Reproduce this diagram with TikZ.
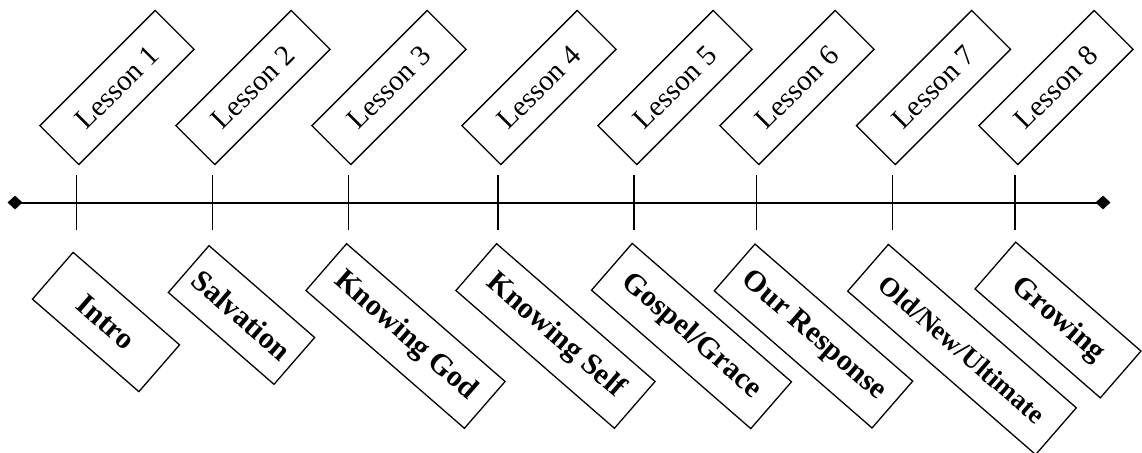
\documentclass[tikz,border=0pt]{standalone}
\usepackage{fontspec}
\setmainfont{Liberation Serif}
\usetikzlibrary{shapes.geometric}
\begin{document}
\begin{tikzpicture}[x=1pt,y=-1pt,
  lesson/.style={draw, line width=1.3pt, rotate=45, minimum width=163pt, minimum height=55pt, inner sep=0pt, font=\fontsize{29}{29}\selectfont},
  topic/.style={draw, line width=1.3pt, rotate=-41, minimum height=62pt, inner sep=0pt, font=\fontsize{30}{30}\selectfont\bfseries},
  tickline/.style={line width=1.3pt},
  axis/.style={line width=2pt},
  endmark/.style={diamond, fill=black, draw=none, inner sep=0pt, minimum width=15pt, minimum height=14pt}]
\useasboundingbox (0,0) rectangle (1142,452);
% axis
\node[endmark] (endL) at (15,202.5) {};
\node[endmark] (endR) at (1103,202.5) {};
\draw[axis] (endL.center) -- (endR.center);
% ticks
\foreach \x [count=\i] in {76.7,212.3,348.7,498,634,756.7,892.7,1015}{
  \coordinate (t\i a) at (\x,175);
  \coordinate (t\i b) at (\x,230);
  \draw[tickline] (t\i a) -- (t\i b);
}
% top lesson boxes
\node[lesson] (l1) at (117,87.5) {Lesson 1};
\node[lesson] (l2) at (253,87.5) {Lesson 2};
\node[lesson] (l3) at (389,87.5) {Lesson 3};
\node[lesson] (l4) at (539,87.5) {Lesson 4};
\node[lesson] (l5) at (675,87.5) {Lesson 5};
\node[lesson] (l6) at (797,87.5) {Lesson 6};
\node[lesson] (l7) at (933.5,87.5) {Lesson 7};
\node[lesson] (l8) at (1056,87.5) {Lesson 8};
% bottom topic boxes
\node[topic, minimum width=141pt] (b1) at (106,322) {Intro};
\node[topic, minimum width=140pt] (b2) at (241.5,315) {Salvation};
\node[topic, minimum width=210pt] (b3) at (405.5,336) {Knowing God};
\node[topic, minimum width=210pt] (b4) at (555.5,336) {Knowing Self};
\node[topic, minimum width=211pt] (b5) at (691.5,336) {Gospel/Grace};
\node[topic, minimum width=209pt] (b6) at (813.5,336) {Our Response};
\node[topic, minimum width=249pt, font=\fontsize{27}{27}\selectfont\bfseries] (b7) at (962,349.5) {Old/New/Ultimate};
\node[topic, minimum width=166pt] (b8) at (1058,320) {Growing};
\end{tikzpicture}
\end{document}
